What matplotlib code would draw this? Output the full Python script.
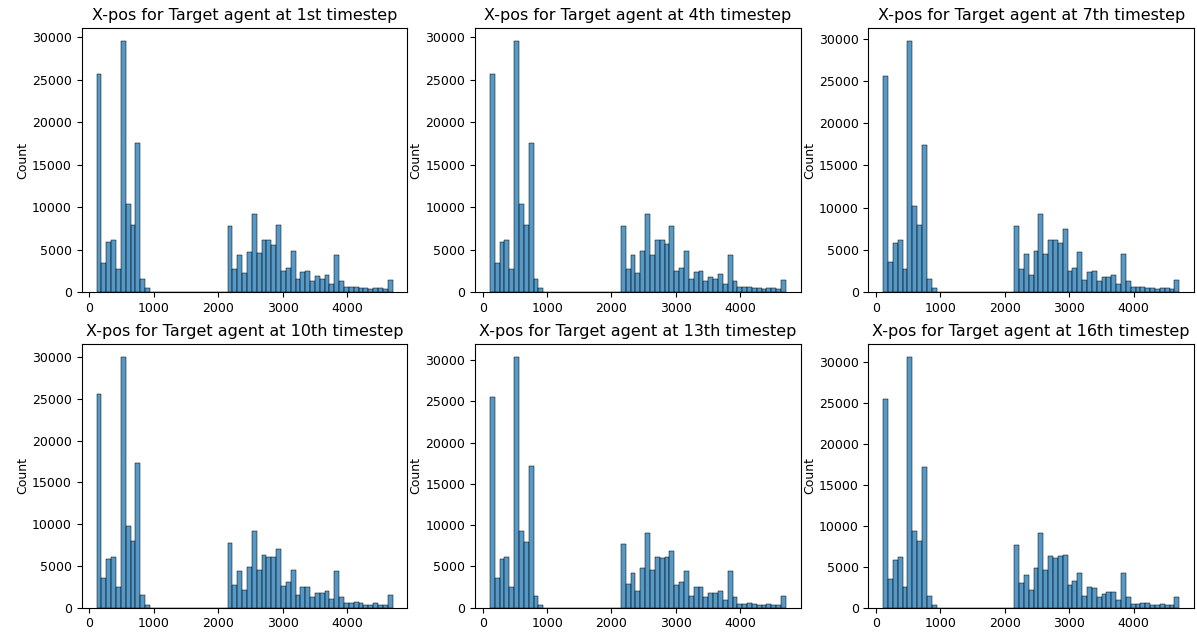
import matplotlib
matplotlib.use("Agg")
import matplotlib.pyplot as plt
import seaborn as sns
import numpy as np
import pandas as pd

# 61 equal-width bins over the x-position range
x_min, x_max, n_bins = 110, 4710, 61
bin_edges = np.linspace(x_min, x_max, n_bins + 1)
bin_centers = (bin_edges[:-1] + bin_edges[1:]) / 2

timesteps = ["1st", "4th", "7th", "10th", "13th", "16th"]

gap = [0] * 16  # empty bins between the two clusters

counts_t1 = ([25670, 3460, 5830, 6100, 2680, 29600, 10350, 7870, 17520, 1570, 470]
             + gap +
             [7720, 2680, 4410, 2200, 4720, 9130, 4570, 6140, 6140, 5510, 7870,
              2480, 2830, 4880, 1570, 2360, 2520, 1260, 1890, 1570, 2050, 945,
              4410, 1260, 630, 550, 630, 470, 470, 390, 470, 470, 390, 1420])
counts_t4 = ([25670, 3460, 5830, 6100, 2680, 29600, 10350, 7870, 17520, 1570, 470]
             + gap +
             [7720, 2680, 4410, 2200, 4880, 9130, 4410, 6140, 6140, 5670, 7720,
              2480, 2830, 4880, 1570, 2360, 2520, 1260, 1730, 1570, 2130, 945,
              4410, 1260, 630, 550, 630, 470, 470, 390, 470, 470, 310, 1420])
counts_t7 = ([25660, 3490, 5860, 6140, 2690, 29780, 10180, 7920, 17430, 1580, 475]
             + gap +
             [7760, 2690, 4440, 2060, 4910, 9190, 4440, 6180, 6180, 5860, 7450,
              2500, 2850, 4750, 1430, 2380, 2530, 1270, 1740, 1740, 2060, 950,
              4440, 1270, 630, 550, 630, 470, 470, 390, 470, 470, 310, 1430])
counts_t10 = ([25600, 3550, 5790, 6110, 2520, 30070, 9780, 8030, 17290, 1480, 320]
              + gap +
              [7710, 2760, 4350, 2120, 4830, 9150, 4510, 6270, 6110, 6110, 7070,
               2600, 3080, 4510, 1480, 2440, 2440, 1320, 1800, 1800, 1960, 1000,
               4350, 1320, 520, 520, 680, 520, 360, 360, 520, 360, 360, 1480])
counts_t13 = ([25480, 3590, 5860, 6180, 2540, 30410, 9330, 7960, 17160, 1410, 280]
              + gap +
              [7710, 2870, 4240, 2060, 4810, 9090, 4560, 6180, 6020, 6180, 6830,
               2710, 3110, 4400, 1410, 2460, 2460, 1330, 1820, 1820, 1980, 930,
               4400, 1330, 440, 440, 610, 440, 280, 280, 440, 280, 280, 1410])
counts_t16 = ([25530, 3540, 5820, 6150, 2570, 30660, 9410, 8100, 17220, 1430, 290]
              + gap +
              [7610, 3050, 4030, 2160, 4850, 9160, 4600, 6310, 6070, 6310, 6470,
               2730, 3300, 4280, 1430, 2570, 2400, 1340, 1670, 1910, 1910, 940,
               4280, 1340, 450, 450, 610, 530, 370, 370, 450, 370, 370, 1340])

all_counts = [counts_t1, counts_t4, counts_t7, counts_t10, counts_t13, counts_t16]

fig, axes = plt.subplots(2, 3, figsize=(11.97, 6.35), dpi=100)
plt.subplots_adjust(left=0.0683, right=0.9975, top=0.9554, bottom=0.043,
                    wspace=0.208, hspace=0.198)

for ax, ts, counts in zip(axes.flat, timesteps, all_counts):
    df = pd.DataFrame({"xpos": bin_centers, "n": counts})
    sns.histplot(data=df, x="xpos", weights="n", bins=n_bins,
                 binrange=(x_min, x_max), ax=ax)
    ax.set_title(f"X-pos for Target agent at {ts} timestep", fontsize=11.5)
    ax.set_ylabel("Count", fontsize=9, labelpad=2)
    ax.set_xlabel("")
    ax.set_xticks([0, 1000, 2000, 3000, 4000])
    ax.tick_params(labelsize=9)

fig.savefig("out.png", dpi=100)
